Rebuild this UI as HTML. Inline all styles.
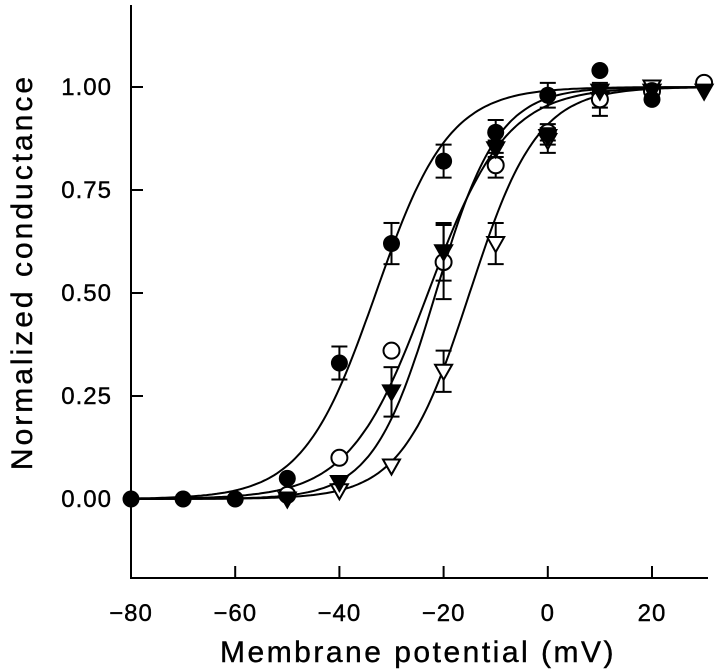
<!DOCTYPE html>
<html><head><meta charset="utf-8"><style>
body{margin:0;background:#fff}
svg{display:block}
text{font-family:"Liberation Sans",sans-serif;fill:#000;stroke:#000;stroke-width:0.4}
</style></head><body>
<svg id="chart" width="720" height="672" viewBox="0 0 720 672"></svg>
<script>
const xTicks=[-80,-60,-40,-20,0,20];
const yTicks=[0,0.25,0.5,0.75,1.0];
const yTickLabels=["0.00","0.25","0.50","0.75","1.00"];
const volts=[-80,-70,-60,-50,-40,-30,-20,-10,0,10,20,30];
const filledCircle=[0,0,0,0.05,0.33,0.62,0.82,0.89,0.98,1.04,0.97,null];
const filledCircleErr=[0,0,0,0,0.04,0.05,0.04,0.03,0.03,0,0,0];
const openCircle=[null,null,null,0.01,0.10,0.36,0.575,0.81,0.89,0.97,0.99,1.01];
const openCircleErr=[0,0,0,0,0,0,0.09,0.03,0.02,0.02,0,0];
const filledTri=[null,null,null,0,0.04,0.26,0.60,0.85,0.88,0.99,0.99,0.99];
const filledTriErr=[0,0,0,0,0,0.06,0.07,0.02,0.02,0,0,0];
const openTri=[null,null,null,null,0.02,0.08,0.31,0.62,0.87,0.97,1.0,null];
const openTriErr=[0,0,0,0,0,0,0.05,0.05,0.03,0.04,0,0];
const fitHalf=[-33,-23,-21.5,-15];
const fitSlope=[7,7.5,6,6.5];

const NS="http://www.w3.org/2000/svg";
const svg=document.getElementById('chart');
const X=v=>131+(v+80)*5.21;
const Y=g=>499-g*412;
function mk(t,a,p){const e=document.createElementNS(NS,t);for(const k in a)e.setAttribute(k,a[k]);(p||svg).appendChild(e);return e;}
const ax=mk('g',{});


mk('line',{x1:131,y1:5,x2:131,y2:578,stroke:'#000','stroke-width':2},ax);
mk('line',{x1:130,y1:578,x2:708,y2:578,stroke:'#000','stroke-width':2},ax);
xTicks.forEach(v=>{
  mk('line',{x1:X(v),y1:578,x2:X(v),y2:566,stroke:'#000','stroke-width':2},ax);
  const t=mk('text',{x:X(v),y:621,'font-size':24,'text-anchor':'middle','letter-spacing':'1'},ax);
  t.textContent=(v<0?'\u2212'+(-v):v);
  
  
});
yTicks.forEach((v,i)=>{
  mk('line',{x1:131,y1:Y(v),x2:143,y2:Y(v),stroke:'#000','stroke-width':2},ax);
  const t=mk('text',{x:112,y:Y(v)+8,'font-size':24,'text-anchor':'end','letter-spacing':'1'},ax);
  t.textContent=yTickLabels[i];
  
  
});
const xt=mk('text',{x:418,y:662,'font-size':30,'text-anchor':'middle','letter-spacing':'2.5'});
xt.textContent='Membrane potential (mV)';


const yt=mk('text',{x:0,y:0,'font-size':30,'text-anchor':'middle','letter-spacing':'3',transform:'translate(32,272) rotate(-90)'});
yt.textContent='Normalized conductance';


const series=[[filledCircle,filledCircleErr,'fc'],[openCircle,openCircleErr,'oc'],[filledTri,filledTriErr,'ft'],[openTri,openTriErr,'ot']];
series.forEach((s,i)=>{
  let d='';
  for(let v=-80;v<=30.01;v+=0.5){const g=1/(1+Math.exp((fitHalf[i]-v)/fitSlope[i]));d+=(d?'L':'M')+X(v).toFixed(1)+','+Y(g).toFixed(1);}
  const p=mk('path',{d:d,fill:'none',stroke:'#000','stroke-width':2});
  
  
});
[series[3],series[1],series[2],series[0]].forEach(([vals,errs,type])=>{
  const g=mk('g',{});
  
  
  vals.forEach((val,i)=>{
    if(val===null)return;
    const cx=X(volts[i]),cy=Y(val),e=errs[i];
    if(e>0){
      mk('line',{x1:cx,y1:Y(val+e),x2:cx,y2:Y(val-e),stroke:'#000','stroke-width':2},g);
      mk('line',{x1:cx-8,y1:Y(val+e),x2:cx+8,y2:Y(val+e),stroke:'#000','stroke-width':2},g);
      mk('line',{x1:cx-8,y1:Y(val-e),x2:cx+8,y2:Y(val-e),stroke:'#000','stroke-width':2},g);
    }
    let m;
    if(type==='fc')m=mk('circle',{cx:cx,cy:cy,r:8.5,fill:'#000'},g);
    else if(type==='oc')m=mk('circle',{cx:cx,cy:cy,r:8,fill:'#fff',stroke:'#000','stroke-width':2},g);
    else{
      const pts=`${cx-8.5},${cy-6.5} ${cx+8.5},${cy-6.5} ${cx},${cy+8.5}`;
      m=mk('polygon',{points:pts,fill:type==='ft'?'#000':'#fff',stroke:'#000','stroke-width':2},g);
    }
    
    
  });
});
</script>
</body></html>
